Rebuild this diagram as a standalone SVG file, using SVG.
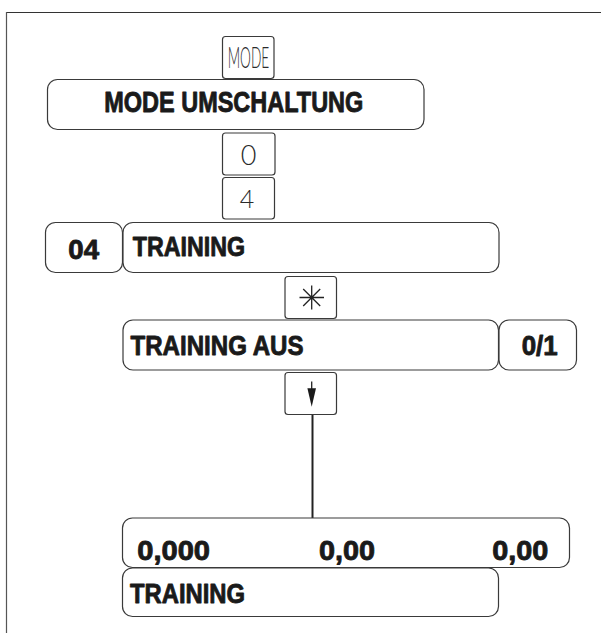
<svg xmlns="http://www.w3.org/2000/svg" width="601" height="633" viewBox="0 0 601 633">
<style>
.box{fill:#fff;stroke:#3a3a3a;stroke-width:1.2}
.key{fill:#fff;stroke:#3a3a3a;stroke-width:1.2}
.b{font-family:"Liberation Sans",Arial,sans-serif;font-weight:bold;fill:#1a1a1a;stroke:#1a1a1a;stroke-width:0.9;stroke-linejoin:round}
.t{font-family:Lato,"Open Sans","DejaVu Sans",sans-serif;font-weight:300;fill:#2a2a2a}
.conn{stroke:#222;stroke-width:2;fill:none}
.sym{stroke:#222;stroke-width:1.3;fill:none}
</style>
<line x1="6" y1="12.5" x2="601" y2="12.5" stroke="#333" stroke-width="1.2"/>
<line x1="6.5" y1="12" x2="6.5" y2="633" stroke="#555" stroke-width="1.2"/>
<g id="connectors">
<line class="conn" x1="312.5" y1="414.5" x2="312.5" y2="518"/>
</g>
<g id="key-mode">
<rect class="key" x="222.5" y="36.5" width="51.5" height="42" rx="3"/>
<text class="t" x="227.7" y="67.7" font-size="29" textLength="41.6" lengthAdjust="spacingAndGlyphs">MODE</text>
</g>
<g id="mode-umschaltung">
<rect class="box" x="47.5" y="79.5" width="376.5" height="50" rx="10"/>
<text class="b" x="104.3" y="111.8" font-size="29.5" textLength="259" lengthAdjust="spacingAndGlyphs">MODE UMSCHALTUNG</text>
</g>
<g id="key-0">
<rect class="key" x="222.5" y="133" width="52.5" height="42" rx="3"/>
<text class="t" x="248.7" y="165" font-size="27" text-anchor="middle">0</text>
</g>
<g id="key-4">
<rect class="key" x="222.5" y="177.5" width="52" height="41.5" rx="3"/>
<text class="t" x="247" y="208" font-size="25" text-anchor="middle">4</text>
</g>
<g id="code-04">
<rect class="box" x="45.5" y="222.5" width="77" height="50" rx="10"/>
<text class="b" x="68.3" y="259.3" font-size="28.5" textLength="30.7" lengthAdjust="spacingAndGlyphs">04</text>
</g>
<g id="training">
<rect class="box" x="123" y="222.5" width="376" height="50" rx="10"/>
<text class="b" x="132.7" y="255.7" font-size="28" textLength="112.3" lengthAdjust="spacingAndGlyphs">TRAINING</text>
</g>
<g id="key-star">
<rect class="key" x="285" y="276.5" width="51.5" height="42" rx="3"/>
<path class="sym" d="M299.5 297.5H324M311.7 285.5V309.5M303.2 289L320.2 306M320.2 289L303.2 306"/>
</g>
<g id="training-aus">
<rect class="box" x="123" y="320" width="375.5" height="50" rx="10"/>
<text class="b" x="130.5" y="355" font-size="28.5" textLength="173" lengthAdjust="spacingAndGlyphs">TRAINING AUS</text>
</g>
<g id="value-01">
<rect class="box" x="499" y="320" width="77.5" height="50" rx="10"/>
<text class="b" x="521.7" y="355" font-size="28.5" textLength="36" lengthAdjust="spacingAndGlyphs">0/1</text>
</g>
<g id="key-down">
<rect class="key" x="285" y="372.5" width="51.5" height="42" rx="3"/>
<line class="sym" x1="311.7" y1="381.5" x2="311.7" y2="390"/>
<path d="M307.4 388.3L316 388.3L311.7 406.7Z" fill="#1a1a1a"/>
</g>
<g id="display">
<rect class="box" x="122.5" y="518" width="447" height="49.5" rx="10"/>
<text class="b" x="137.3" y="559.5" font-size="28.5" textLength="72.7" lengthAdjust="spacingAndGlyphs">0,000</text>
<text class="b" x="319" y="559.5" font-size="28.5" textLength="56" lengthAdjust="spacingAndGlyphs">0,00</text>
<text class="b" x="492.3" y="559.5" font-size="28.5" textLength="56" lengthAdjust="spacingAndGlyphs">0,00</text>
</g>
<g id="training-status">
<rect class="box" x="122.5" y="568" width="376" height="48.5" rx="10"/>
<text class="b" x="130" y="603" font-size="28.5" textLength="115" lengthAdjust="spacingAndGlyphs">TRAINING</text>
</g>
</svg>
